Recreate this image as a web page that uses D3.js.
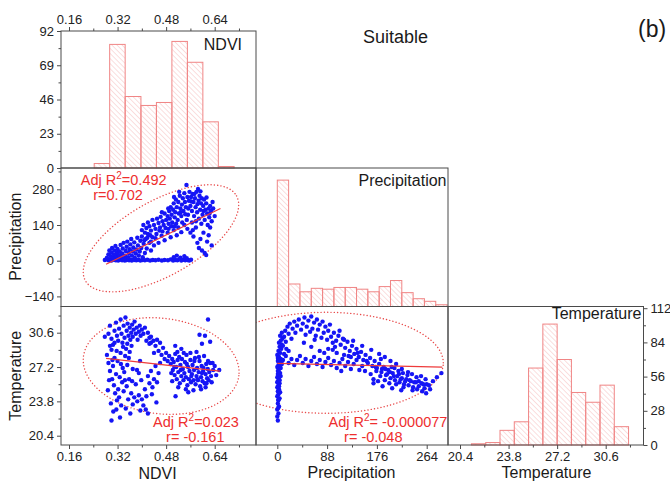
<!DOCTYPE html>
<html>
<head>
<meta charset="utf-8">
<script src="https://cdn.jsdelivr.net/npm/d3@7"></script>
<style>
	body { margin: 0; background: #fff; }
	svg text { font-family: "Liberation Sans", Arial, sans-serif; }
</style>
</head>
<body>
<script>
// ---- histograms (diagonal) ----
const ndviEdges = [0.243, 0.294, 0.345, 0.397, 0.448, 0.499, 0.550, 0.601, 0.652, 0.704];
const ndviCounts = [3, 83, 48, 42, 44, 85, 71, 31, 1];
const precEdges = [0, 20, 40, 60, 80, 100, 120, 140, 160, 180, 200, 220, 240, 260, 280, 300];
const precCounts = [146, 26, 17, 21, 20, 22, 22, 20, 17, 23, 30, 16, 9, 6, 2];
const tempEdges = [21.2, 22.2, 23.2, 24.2, 25.2, 26.2, 27.2, 28.2, 29.2, 30.2, 31.2, 32.2];
const tempCounts = [1, 2, 12, 19, 63, 99, 70, 43, 35, 49, 15];

// ---- tick labels ----
const ndviTicks = [0.16, 0.32, 0.48, 0.64];
const ndviMinor = [0.24, 0.40, 0.56, 0.72];
const precTicks = [0, 88, 176, 264];
const precMinor = [44, 132, 220];
const tempTicks = [20.4, 23.8, 27.2, 30.6];
const tempMinor = [22.1, 25.5, 28.9, 32.3];
const precRowTicks = [-140, 0, 140, 280];
const precRowMinor = [-70, 70, 210, 350];
const ndviCountTicks = [0, 23, 46, 69, 92];
const ndviCountMinor = [11.5, 34.5, 57.5, 80.5];
const tempCountTicks = [0, 28, 56, 84, 112];
const tempCountMinor = [14, 42, 70, 98];

// ---- scatter: NDVI vs Precipitation ----
const ndviPrecPts = [
	[0.278,3],[0.284,6],[0.29,2],[0.295,5],[0.30,1],[0.305,4],[0.31,7],[0.314,2],[0.318,5],[0.322,1],[0.327,4],[0.331,6],
	[0.335,2],[0.34,5],[0.344,1],[0.349,3],[0.353,6],[0.358,2],[0.362,4],[0.367,1],[0.372,5],[0.377,3],[0.382,2],[0.388,4],
	[0.395,1],[0.402,3],[0.41,2],[0.418,4],[0.427,1],[0.436,3],[0.445,2],[0.455,4],[0.466,1],[0.475,3],[0.486,2],[0.495,5],
	[0.503,1],[0.51,3],[0.517,2],[0.524,6],[0.53,1],[0.536,4],[0.543,2],[0.55,3],[0.556,1],[0.562,4],
	[0.505,14],[0.515,20],[0.527,12],[0.54,18],[0.548,10],
	[0.285,12],[0.29,25],[0.293,40],[0.297,18],[0.30,32],[0.302,50],[0.306,12],[0.308,24],[0.31,40],[0.313,58],[0.316,16],
	[0.318,30],[0.32,46],[0.323,10],[0.325,22],[0.327,36],[0.33,62],[0.332,15],[0.335,28],[0.337,48],[0.34,70],[0.342,10],
	[0.345,20],[0.347,38],[0.35,55],[0.352,75],[0.355,14],[0.357,30],[0.36,45],[0.362,64],[0.365,85],[0.367,20],[0.37,36],
	[0.372,52],[0.375,72],[0.377,12],[0.38,28],[0.382,44],[0.385,90],[0.387,60],[0.39,20],[0.393,36],[0.395,78],[0.398,50],
	[0.40,95],[0.403,14],[0.406,66],[0.41,30],[0.413,85],[0.416,48],[0.42,105],[0.425,70],[0.43,40],[0.435,92],[0.44,60],
	[0.40,120],[0.405,140],[0.41,110],[0.415,128],[0.42,150],[0.425,135],[0.43,118],[0.435,160],[0.44,140],[0.445,125],
	[0.45,165],[0.455,148],[0.46,130],[0.462,172],[0.468,155],[0.472,140],[0.475,185],[0.48,160],[0.485,175],[0.488,145],
	[0.49,195],[0.492,165],[0.495,210],[0.498,180],[0.50,150],[0.503,200],[0.505,225],[0.508,170],[0.51,190],[0.512,240],
	[0.515,210],[0.518,160],[0.52,230],[0.522,185],[0.525,255],[0.527,205],[0.53,175],[0.532,220],[0.535,245],[0.537,195],
	[0.54,265],[0.542,230],[0.545,210],[0.547,297],[0.55,250],[0.552,180],[0.555,235],[0.557,270],
	[0.56,215],[0.562,250],[0.565,195],[0.567,262],[0.57,230],[0.572,175],[0.575,245],[0.577,210],[0.58,270],[0.582,190],
	[0.585,281],[0.587,235],[0.59,255],[0.592,200],[0.595,225],[0.597,245],[0.60,180],[0.602,215],[0.605,240],[0.607,160],
	[0.61,200],[0.612,225],[0.615,185],[0.617,140],[0.62,205],[0.622,170],[0.625,215],[0.628,195],[0.63,155],[0.635,205],
	[0.64,175],
	[0.43,75],[0.445,88],[0.455,70],[0.465,98],[0.475,80],[0.485,110],[0.495,92],[0.505,120],[0.515,100],[0.52,130],
	[0.53,112],[0.54,140],[0.55,125],[0.56,110],[0.565,150],[0.57,95],[0.578,130],[0.583,70],[0.588,50],[0.593,85],
	[0.598,40],[0.603,110],[0.607,30],[0.612,22],[0.615,75],[0.62,100],[0.625,130],[0.63,60],[0.588,165],[0.596,145],
	[0.458,118],[0.466,190],[0.478,128],[0.487,205],[0.497,135],[0.506,250],[0.513,145],[0.523,270],[0.533,150],[0.543,182],
	[0.553,205],[0.563,232],[0.573,262],[0.583,222],[0.593,272],[0.603,195],[0.613,248],[0.623,185],[0.633,230],[0.578,155],
	[0.568,120],[0.548,160],[0.528,190],[0.508,135],[0.488,125],[0.468,115],[0.448,105],[0.428,100],[0.418,90],[0.408,80]
];

// ---- scatter: NDVI vs Temperature ----
const ndviTempPts = [
	[0.278,30.2],[0.29,30.5],[0.295,31.3],[0.30,30.0],[0.305,29.4],[0.31,30.8],[0.315,31.6],[0.318,30.3],[0.322,29.8],
	[0.325,31.0],[0.33,31.9],[0.333,30.5],[0.336,29.6],[0.34,31.3],[0.343,30.1],[0.346,32.1],[0.35,30.8],[0.353,31.5],
	[0.356,30.3],[0.36,31.1],[0.362,29.9],[0.365,30.6],[0.368,31.4],[0.37,30.2],[0.373,30.9],[0.376,31.7],[0.38,30.5],
	[0.383,31.1],[0.386,29.9],[0.39,30.7],[0.393,31.3],[0.396,30.3],[0.40,30.9],[0.405,30.5],[0.41,31.1],[0.415,29.8],
	[0.42,30.6],[0.425,30.1],[0.43,29.6],[0.352,29.5],
	[0.285,28.4],[0.29,27.6],[0.295,26.8],[0.30,28.9],[0.302,26.0],[0.305,27.3],[0.308,25.4],[0.31,28.1],[0.312,24.6],
	[0.315,26.5],[0.318,23.9],[0.32,27.8],[0.322,25.0],[0.325,24.2],[0.327,26.2],[0.33,28.6],[0.332,23.4],[0.335,25.7],
	[0.337,27.1],[0.34,24.8],[0.342,26.7],[0.345,28.3],[0.347,23.1],[0.35,25.3],[0.352,27.4],[0.355,24.0],[0.358,26.0],
	[0.36,28.7],[0.362,22.6],[0.365,24.6],[0.368,25.8],[0.37,27.0],[0.298,23.6],[0.306,22.8],[0.288,24.9],[0.292,25.9],
	[0.30,21.9],[0.316,23.0],[0.328,22.2],[0.338,29.2],[0.348,29.0],[0.295,29.3],[0.31,29.6],
	[0.303,27.9],[0.317,28.8],[0.331,27.5],[0.344,25.9],[0.357,28.1],[0.366,29.3],[0.375,24.2],[0.384,26.9],[0.394,27.8],
	[0.38,25.5],[0.385,23.8],[0.39,24.4],[0.395,22.9],[0.40,24.0],[0.405,23.4],[0.41,25.0],[0.415,24.3],[0.42,26.3],
	[0.425,25.6],[0.43,26.8],[0.435,25.2],[0.44,26.0],[0.445,27.3],[0.45,25.7],[0.455,26.6],[0.46,27.6],[0.413,23.0],
	[0.39,26.6],[0.37,23.5],[0.398,25.9],[0.433,24.5],[0.448,23.7],[0.42,22.6],
	[0.425,29.5],[0.43,30.2],[0.438,29.8],[0.445,29.3],[0.45,29.9],[0.455,28.8],[0.46,29.6],[0.465,28.4],[0.47,29.1],
	[0.475,28.0],[0.48,28.6],[0.485,27.8],[0.44,28.6],
	[0.49,28.3],[0.495,27.5],[0.50,28.0],[0.502,26.9],[0.505,27.7],[0.508,26.4],[0.51,28.5],[0.513,27.2],[0.515,26.0],
	[0.518,27.9],[0.52,26.7],[0.523,28.2],[0.525,25.6],[0.527,27.4],[0.53,26.3],[0.532,28.0],[0.535,27.0],[0.537,25.9],
	[0.54,26.6],[0.542,27.7],[0.545,26.2],[0.547,28.4],[0.55,25.4],[0.552,27.2],[0.555,26.0],[0.557,26.8],[0.56,27.9],
	[0.562,25.7],[0.565,26.5],[0.567,27.4],[0.57,25.9],[0.572,26.9],[0.575,28.1],[0.577,25.5],[0.58,26.3],[0.582,27.1],
	[0.585,25.9],[0.587,26.7],[0.59,27.8],[0.592,25.3],[0.595,26.2],[0.597,27.3],[0.60,25.8],[0.602,26.8],[0.605,28.3],
	[0.607,25.6],[0.61,26.5],[0.612,27.5],[0.615,26.1],[0.617,27.0],[0.62,25.9],[0.622,26.7],[0.625,27.6],[0.628,26.3],
	[0.63,25.7],[0.635,26.9],[0.64,27.3],[0.645,26.4],[0.655,26.9],[0.50,25.8],[0.52,25.2],[0.545,25.0],[0.57,24.9],
	[0.595,25.0],[0.61,25.2],[0.56,28.6],[0.58,28.7],[0.53,29.0],[0.51,29.3],[0.511,24.3],
	[0.497,26.6],[0.517,28.7],[0.538,28.6],[0.553,24.7],[0.573,27.8],[0.588,28.2],[0.603,27.1],[0.618,27.8],[0.633,27.6],
	[0.548,27.5],[0.563,26.3],[0.583,26.0],[0.598,26.6],[0.613,25.6],[0.528,26.9],[0.507,27.2],
	[0.618,31.9],[0.59,30.4],[0.608,30.3],[0.598,29.5],[0.625,29.7]
];

// ---- scatter: Precipitation vs Temperature ----
const precTempPts = [
	[1,21.9],[2,22.6],[0,23.0],[3,23.3],[1,23.6],[2,23.9],[4,24.1],[0,24.3],[2,24.5],[1,24.8],[3,25.0],[0,25.2],[2,25.4],
	[4,25.6],[1,25.8],[3,26.0],[0,26.2],[2,26.4],[5,26.6],[1,26.8],[3,27.0],[0,27.2],[2,27.4],[4,27.6],[1,27.8],[6,28.0],
	[3,28.2],[0,28.4],[5,28.6],[2,28.8],[7,29.0],[4,29.2],[8,29.4],[3,29.6],[6,29.8],[9,30.0],[5,30.3],[8,30.6],[2,24.0],
	[3,25.3],[1,26.5],[4,27.3],[2,27.9],[0,25.7],[5,24.7],[6,27.1],[3,26.7],[1,28.1],[7,27.7],[2,23.2],[0,22.3],[4,25.9],
	[6,26.3],[8,27.5],
	[10,29.3],[12,30.2],[14,30.8],[15,29.7],[18,31.2],[20,30.5],[22,31.5],[25,30.0],[27,31.0],[30,31.7],[32,30.6],[35,31.3],
	[12,28.5],[16,29.0],[20,28.8],
	[38,31.9],[42,30.9],[45,31.5],[48,32.1],[50,30.4],[52,31.2],[55,31.8],[58,30.7],[60,32.2],[62,31.0],[65,31.6],[68,30.3],
	[70,31.9],[72,30.9],[75,31.4],[78,30.1],[80,31.7],[82,30.6],[85,31.2],[88,29.9],[90,30.8],[93,31.4],[95,30.2],[98,29.6],
	[100,30.6],[104,29.8],[108,30.3],[112,29.4],[116,30.0],[120,29.1],[124,29.7],[128,28.8],[132,29.3],[136,28.5],[140,29.0],
	[144,28.2],[148,28.7],[152,27.9],[156,28.4],[160,27.6],[164,28.1],[168,27.3],[172,27.8],[176,27.1],[180,27.5],[184,26.7],
	[188,27.2],[192,26.4],[196,26.9],[200,26.1],[204,26.6],[208,25.9],[212,26.3],[216,25.7],[220,26.1],[224,25.5],[228,26.0],
	[232,25.4],[236,25.8],[240,25.2],[245,25.7],[250,25.3],[255,25.6],[260,25.1],[264,25.5],
	[102,29.2],[110,30.8],[118,29.9],[126,28.3],[134,29.8],[142,28.6],[150,29.3],[158,27.8],[166,28.9],[174,27.2],[183,28.0],
	[191,27.0],[199,26.7],[207,27.1],[215,26.5],[223,25.2],[231,26.7],[239,24.9],[247,25.0],[256,24.8],[263,24.6],[170,25.6],
	[186,25.3],[203,25.1],[219,24.9],
	[165,26.5],[170,26.0],[175,26.8],[178,25.8],[182,26.3],[185,27.0],[190,25.9],[194,26.5],[198,25.6],[202,27.2],[206,26.3],
	[210,25.5],[214,26.8],[218,26.0],[222,26.6],[226,25.8],[230,26.4],[234,25.9],[238,26.5],[242,25.7],[246,26.2],[250,25.8],
	[254,26.3],[258,25.5],[262,26.0],[200,27.8],[190,28.2],[180,28.5],[210,27.5],[220,27.0],
	[10,27.9],[15,28.3],[20,27.6],[25,28.0],[30,27.4],[35,27.9],[40,28.3],[45,27.6],[50,28.0],[55,27.3],[60,27.8],[65,28.2],
	[70,27.5],[75,27.9],[80,27.2],[85,27.7],[90,28.1],[95,27.4],[100,27.8],[105,27.1],[110,27.6],[115,28.0],[120,27.3],
	[125,27.7],[130,27.0],[135,27.5],[140,27.9],[145,26.9],[150,27.3],[155,26.8],
	[60,29.2],[75,28.8],[90,29.0],[105,28.6],[118,28.4],[130,28.2],[47,29.6],[66,29.9],[83,28.6],[98,28.9],[113,26.8],
	[270,25.0],[275,25.8],[282,26.2],[290,26.6],[268,25.4]
];

// fitted lines [x0,y0],[x1,y1] and 95% ellipses: center, semi-axis u, semi-axis v
const fitNdviPrec = [[0.282, -14], [0.659, 205]];
const fitNdviTemp = [[0.282, 28.06], [0.657, 26.8]];
const fitPrecTemp = [[0, 27.57], [291.5, 27.2]];
const ellNdviPrec = [[0.463, 87.8], [0.249, 166.3], [0.060, -128.2]];
const ellNdviTemp = [[0.4636, 27.3], [0.256, -0.947], [-0.019, -4.69]];
const ellPrecTemp = [[86.6, 27.62], [206.7, 0], [0, 5.0]];

const stats = [
	{ r2: "=0.492", r: "r=0.702", x: 123.7, y: 185, rx: 118 },
	{ r2: "=0.023", r: "r= -0.161", x: 196, y: 426.7, rx: 195.3 },
	{ r2: "= -0.000077", r: "r= -0.048", x: 388, y: 426.7, rx: 373.3 }
];

const svg = d3.select("body").append("svg").attr("width", 670).attr("height", 483);

// panel grid
const colX = [61, 256, 448, 643.5];
const rowY = [31, 168, 306.5, 445];

const xNdvi = d3.scaleLinear().domain([0.16, 0.64]).range([69, 214.7]);
const xPrec = d3.scaleLinear().domain([0, 264]).range([277.3, 426.7]);
const xTemp = d3.scaleLinear().domain([20.4, 30.6]).range([460, 605.7]);
const yNdviHist = d3.scaleLinear().domain([0, 92]).range([rowY[1], rowY[0]]);
const yPrecHist = d3.scaleLinear().domain([0, 160]).range([rowY[2], rowY[1]]);
const yTempHist = d3.scaleLinear().domain([0, 112]).range([rowY[3], 308.2]);
const yPrec = d3.scaleLinear().domain([-140, 280]).range([296.4, 189.3]);
const yTemp = d3.scaleLinear().domain([20.4, 30.6]).range([435.7, 332.7]);

const defs = svg.append("defs");
defs.append("pattern")
	.attr("id", "hatch")
	.attr("patternUnits", "userSpaceOnUse")
	.attr("width", 3.6)
	.attr("height", 3.6)
	.attr("patternTransform", "rotate(-45)")
	.append("line")
	.attr("x1", 0).attr("y1", 0).attr("x2", 0).attr("y2", 3.6)
	.attr("stroke", "#f5b8b8")
	.attr("stroke-width", 0.9);

const clip = (id, c, r) => {
	defs.append("clipPath").attr("id", id).append("rect")
		.attr("x", colX[c]).attr("y", rowY[r])
		.attr("width", colX[c + 1] - colX[c]).attr("height", rowY[r + 1] - rowY[r]);
	return "url(#" + id + ")";
};

const drawHist = (edges, counts, x, y) => {
	svg.append("g")
		.selectAll("rect")
		.data(counts)
		.join("rect")
		.attr("x", (d, i) => x(edges[i]))
		.attr("width", (d, i) => x(edges[i + 1]) - x(edges[i]))
		.attr("y", (d) => y(d))
		.attr("height", (d) => y(0) - y(d))
		.attr("fill", "url(#hatch)")
		.attr("stroke", "#f08585")
		.attr("stroke-width", 1);
};

const drawScatter = (pts, fit, ell, x, y, clipId) => {
	const g = svg.append("g").attr("clip-path", clipId);
	const ring = d3.range(0, 361, 2).map((a) => {
		const t = (a * Math.PI) / 180;
		return [
			x(ell[0][0] + Math.cos(t) * ell[1][0] + Math.sin(t) * ell[2][0]),
			y(ell[0][1] + Math.cos(t) * ell[1][1] + Math.sin(t) * ell[2][1])
		];
	});
	g.append("path")
		.attr("d", d3.line()(ring))
		.attr("fill", "none")
		.attr("stroke", "#e84a4a")
		.attr("stroke-width", 1.4)
		.attr("stroke-dasharray", "0.1,3.2")
		.attr("stroke-linecap", "round");
	g.selectAll("circle")
		.data(pts)
		.join("circle")
		.attr("cx", (d) => x(d[0]))
		.attr("cy", (d) => y(d[1]))
		.attr("r", 2.2)
		.attr("fill", "#1515f5");
	g.append("line")
		.attr("x1", x(fit[0][0])).attr("y1", y(fit[0][1]))
		.attr("x2", x(fit[1][0])).attr("y2", y(fit[1][1]))
		.attr("stroke", "#ee3b3b")
		.attr("stroke-width", 1.2);
};

drawHist(ndviEdges, ndviCounts, xNdvi, yNdviHist);
drawHist(precEdges, precCounts, xPrec, yPrecHist);
drawHist(tempEdges, tempCounts, xTemp, yTempHist);
drawScatter(ndviPrecPts, fitNdviPrec, ellNdviPrec, xNdvi, yPrec, clip("c10", 0, 1));
drawScatter(ndviTempPts, fitNdviTemp, ellNdviTemp, xNdvi, yTemp, clip("c20", 0, 2));
drawScatter(precTempPts, fitPrecTemp, ellPrecTemp, xPrec, yTemp, clip("c21", 1, 2));

// frames of the lower triangle
[[0, 0], [0, 1], [1, 1], [0, 2], [1, 2], [2, 2]].forEach(([c, r]) => {
	svg.append("rect")
		.attr("x", colX[c]).attr("y", rowY[r])
		.attr("width", colX[c + 1] - colX[c]).attr("height", rowY[r + 1] - rowY[r])
		.attr("fill", "none")
		.attr("stroke", "#4a4a4a")
		.attr("stroke-width", 1);
});

const addAxis = (axisFn, scale, major, minor, fmt, tx, ty) => {
	const g = svg.append("g").attr("transform", "translate(" + tx + "," + ty + ")");
	g.call(axisFn(scale).tickValues(major).tickFormat(fmt).tickSizeInner(4).tickSizeOuter(0).tickPadding(3));
	g.append("g").call(axisFn(scale).tickValues(minor).tickFormat(() => "").tickSizeInner(2.5).tickSizeOuter(0));
	g.selectAll(".domain").remove();
	g.selectAll("line").attr("stroke", "#4a4a4a");
	g.attr("font-size", 13).attr("font-family", null);
	g.selectAll("text").attr("fill", "#222");
};

const f2 = d3.format(".2f");
const f1 = d3.format(".1f");
const f0 = d3.format("d");
addAxis(d3.axisTop, xNdvi, ndviTicks, ndviMinor, f2, 0, rowY[0]);
addAxis(d3.axisLeft, yNdviHist, ndviCountTicks, ndviCountMinor, f0, colX[0], 0);
addAxis(d3.axisLeft, yPrec, precRowTicks, precRowMinor, f0, colX[0], 0);
addAxis(d3.axisLeft, yTemp, tempTicks, tempMinor, f1, colX[0], 0);
addAxis(d3.axisBottom, xNdvi, ndviTicks, ndviMinor, f2, 0, rowY[3]);
addAxis(d3.axisBottom, xPrec, precTicks, precMinor, f0, 0, rowY[3]);
addAxis(d3.axisBottom, xTemp, tempTicks, tempMinor, f1, 0, rowY[3]);
addAxis(d3.axisRight, yTempHist, tempCountTicks, tempCountMinor, f0, colX[3], 0);

const label = (txt, x, y, size, anchor, rot) => {
	const t = svg.append("text")
		.attr("x", x)
		.attr("y", y)
		.attr("font-size", size)
		.attr("text-anchor", anchor)
		.attr("fill", "#1a1a1a")
		.text(txt);
	if (rot) t.attr("transform", "rotate(-90," + x + "," + y + ")");
	return t;
};

label("Suitable", 395.5, 42.5, 18, "middle");
label("(b)", 638, 37, 23, "start");
label("NDVI", 242, 49.5, 16, "end");
label("Precipitation", 446.5, 185.5, 16, "end");
label("Temperature", 641.5, 319, 16, "end");
label("NDVI", 157.5, 478.5, 16, "middle");
label("Precipitation", 351.5, 478, 16, "middle");
label("Temperature", 546.5, 478, 16, "middle");
label("Precipitation", 21.5, 236.7, 16, "middle", true);
label("Temperature", 21.5, 375.8, 16, "middle", true);

// regression statistics
stats.forEach((s) => {
	const t = svg.append("text")
		.attr("x", s.x)
		.attr("y", s.y)
		.attr("font-size", 14.5)
		.attr("text-anchor", "middle")
		.attr("fill", "#ee2e2e");
	t.append("tspan").text("Adj R");
	t.append("tspan").attr("font-size", 10).attr("dy", -6).text("2");
	t.append("tspan").attr("dy", 6).text(s.r2);
	svg.append("text")
		.attr("x", s.rx)
		.attr("y", s.y + 15)
		.attr("font-size", 14.5)
		.attr("text-anchor", "middle")
		.attr("fill", "#ee2e2e")
		.text(s.r);
});
</script>
</body>
</html>
